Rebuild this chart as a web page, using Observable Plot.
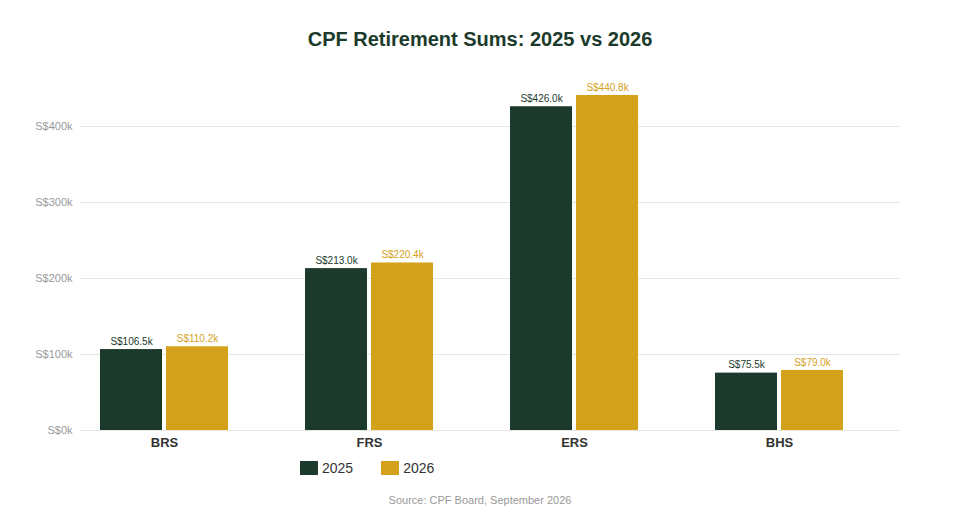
<!DOCTYPE html>
<html>
<head>
<meta charset="utf-8">
<script src="https://cdn.jsdelivr.net/npm/d3@7"></script>
<script src="https://cdn.jsdelivr.net/npm/@observablehq/plot@0.6"></script>
<style>
  html, body { margin: 0; padding: 0; background: #fff; }
  body { width: 960px; height: 520px; font-family: "Liberation Sans", Arial, Helvetica, sans-serif; }
  #title { height: 60px; box-sizing: border-box; padding-top: 27px; text-align: center; font-size: 20px; font-weight: bold; color: #1b3a2b; line-height: 24px; }
  #chart { height: 395px; }
  #legend { height: 26px; box-sizing: border-box; padding-left: 300px; padding-top: 0; display: flex; align-items: center; font-size: 14px; color: #333; }
  .item { display: flex; align-items: center; margin-right: 28px; }
  .sw { width: 18px; height: 14px; margin-right: 4px; display: inline-block; }
  #caption { text-align: center; font-size: 11px; color: #999; padding-top: 13px; line-height: 13px; }
</style>
</head>
<body>
<div id="title">CPF Retirement Sums: 2025 vs 2026</div>
<div id="chart"></div>
<div id="legend"></div>
<div id="caption">Source: CPF Board, September 2026</div>
<script>
const categories = ["BRS", "FRS", "ERS", "BHS"];
const years = ["2025", "2026"];
const values2025 = [106500, 213000, 426000, 75500];
const values2026 = [110200, 220400, 440800, 79000];
const yTicks = [0, 100000, 200000, 300000, 400000];
const colors = ["#1b3a2b", "#d4a11a"];

const data = [];
categories.forEach((c, i) => {
  data.push({cat: c, year: years[0], value: values2025[i]});
  data.push({cat: c, year: years[1], value: values2026[i]});
});

const chart = Plot.plot({
  width: 960,
  height: 395,
  marginLeft: 80,
  marginRight: 60,
  marginTop: 28,
  marginBottom: 25,
  style: {fontFamily: '"Liberation Sans", Arial, Helvetica, sans-serif', background: "#fff"},
  fx: {domain: categories, paddingInner: 0, paddingOuter: 0, label: null},
  x: {domain: years, paddingInner: 0.0606, paddingOuter: 0.583, align: 0.26, axis: null},
  y: {domain: [0, 450000], label: null},
  color: {domain: years, range: colors},
  marks: [
    Plot.gridY(yTicks, {stroke: "#e6e6e6", strokeOpacity: 1, strokeWidth: 1}),
    Plot.axisY(yTicks, {tickSize: 0, tickPadding: 8, fontSize: 11, fill: "#999999", tickFormat: d => `S$${d / 1000}k`, label: null}),
    Plot.axisFx({anchor: "bottom", tickSize: 0, tickPadding: 7, dx: -18.5, fontSize: 13, fontWeight: "bold", fill: "#333", label: null}),
    Plot.barY(data, {fx: "cat", x: "year", y: "value", fill: "year"}),
    Plot.text(data, {fx: "cat", x: "year", y: "value", text: d => `S$${(d.value / 1000).toFixed(1)}k`, dy: -8, fontSize: 10, fill: "year"})
  ]
});
document.getElementById("chart").appendChild(chart);

const legend = document.getElementById("legend");
years.forEach((y, i) => {
  const item = document.createElement("div");
  item.className = "item";
  item.innerHTML = `<span class="sw" style="background:${colors[i]}"></span><span>${y}</span>`;
  legend.appendChild(item);
});
</script>
</body>
</html>
